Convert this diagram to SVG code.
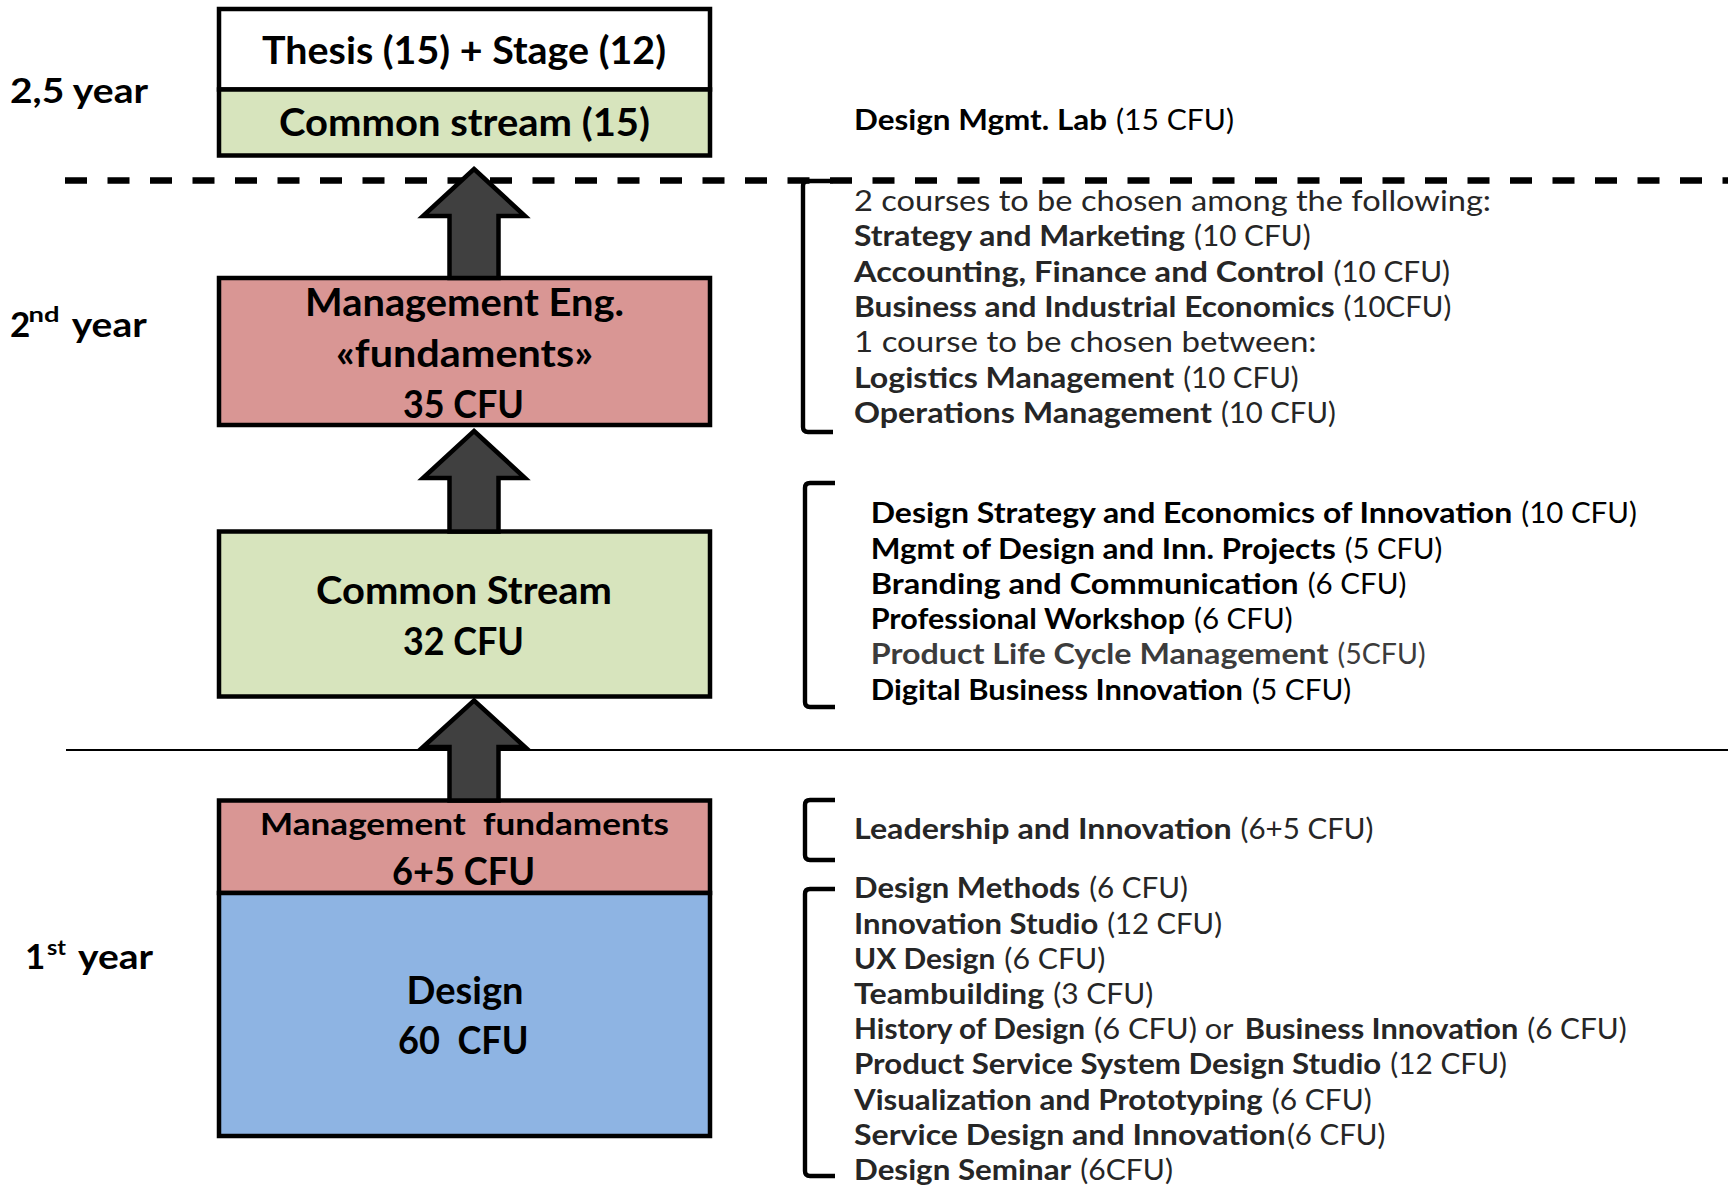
<svg xmlns="http://www.w3.org/2000/svg" width="1728" height="1185" viewBox="0 0 1728 1185">
  <style>
    .box { stroke: #000; stroke-width: 4.5; }
    .white { fill: #fff; }
    .green { fill: #d7e4bd; }
    .red { fill: #d99694; }
    .blue { fill: #8eb4e3; }
    .lbl { font-family: Lato, "Open Sans", "Liberation Sans", sans-serif; font-weight: 700; fill: #000; }
    .big { font-size: 38px; }
    .mid { font-size: 31px; }
    .yr { font-size: 35px; }
    .sup { font-size: 21px; }
    .crs { font-family: Lato, "Open Sans", "Liberation Sans", sans-serif; font-size: 28px; fill: #262626; }
    .k { fill: #000; }
    .g { fill: #3c3c3c; }
    .b { font-weight: 700; }
    .r { font-weight: 400; }
    .arrow { fill: #404040; stroke: #000; stroke-width: 4.5; stroke-linejoin: miter; }
    .brk { fill: none; stroke: #000; stroke-width: 4.4; }
  </style>

  <!-- year separators -->
  <g id="separators">
    <line x1="65" y1="180.5" x2="1728" y2="180.5" stroke="#000" stroke-width="6.5" stroke-dasharray="22 20.5"/>
    <line x1="66" y1="750" x2="1728" y2="750" stroke="#000" stroke-width="2"/>
  </g>

  <!-- year labels -->
  <g id="year-labels" class="lbl yr">
    <text x="10" y="103" textLength="138" lengthAdjust="spacingAndGlyphs">2,5 year</text>
    <text y="336.5"><tspan x="10">2</tspan><tspan class="sup" x="28.5" y="322" textLength="31" lengthAdjust="spacingAndGlyphs">nd</tspan> <tspan x="71.7" y="336.5" textLength="75" lengthAdjust="spacingAndGlyphs">year</tspan></text>
    <text y="969"><tspan x="25">1</tspan><tspan class="sup" x="47" y="955" textLength="19" lengthAdjust="spacingAndGlyphs">st</tspan> <tspan x="78" y="969" textLength="75" lengthAdjust="spacingAndGlyphs">year</tspan></text>
  </g>

  <!-- 2,5 year: thesis + common stream -->
  <g id="node-thesis">
    <rect class="box white" x="219" y="9" width="491" height="80.5"/>
    <rect class="box green" x="219" y="89.5" width="491" height="66"/>
    <text class="lbl big" x="262" y="64" textLength="404" lengthAdjust="spacingAndGlyphs">Thesis (15) + Stage (12)</text>
    <text class="lbl big" x="279" y="136" textLength="371" lengthAdjust="spacingAndGlyphs">Common stream (15)</text>
  </g>

  <!-- 2nd year: management engineering fundamentals -->
  <g id="node-mgmt-eng">
    <rect class="box red" x="219" y="278" width="491" height="147"/>
    <text class="lbl big" x="305" y="316" textLength="319" lengthAdjust="spacingAndGlyphs">Management Eng.</text>
    <text class="lbl big" x="336" y="367" textLength="257" lengthAdjust="spacingAndGlyphs">«fundaments»</text>
    <text class="lbl big" x="403" y="417.5" textLength="121" lengthAdjust="spacingAndGlyphs">35 CFU</text>
  </g>

  <!-- 2nd year: common stream -->
  <g id="node-common-stream">
    <rect class="box green" x="219" y="531.5" width="491" height="165"/>
    <text class="lbl big" x="316" y="604" textLength="296" lengthAdjust="spacingAndGlyphs">Common Stream</text>
    <text class="lbl big" x="403" y="655" textLength="121" lengthAdjust="spacingAndGlyphs">32 CFU</text>
  </g>

  <!-- 1st year: management fundamentals + design -->
  <g id="node-year1">
    <rect class="box red" x="219" y="800.5" width="491" height="92.5"/>
    <rect class="box blue" x="219" y="893" width="491" height="243"/>
    <text class="lbl mid" x="260" y="835" xml:space="preserve" textLength="409" lengthAdjust="spacingAndGlyphs">Management  fundaments</text>
    <text class="lbl big" x="392" y="884.5" textLength="143" lengthAdjust="spacingAndGlyphs">6+5 CFU</text>
    <text class="lbl big" x="406.5" y="1004" textLength="117" lengthAdjust="spacingAndGlyphs">Design</text>
    <text class="lbl big" x="398" y="1054" xml:space="preserve" textLength="130.5" lengthAdjust="spacingAndGlyphs">60  CFU</text>
  </g>

  <!-- block arrows between the stages -->
  <g id="connectors">
    <path class="arrow" d="M474,169 L525,216 L498.5,216 L498.5,278 L449.5,278 L449.5,216 L423,216 Z"/>
    <path class="arrow" d="M474,431 L525,478 L498.5,478 L498.5,531.5 L449.5,531.5 L449.5,478 L423,478 Z"/>
    <path class="arrow" d="M474,700.5 L525,747 L498.5,747 L498.5,800.5 L449.5,800.5 L449.5,747 L423,747 Z"/>
  </g>

  <!-- course brackets -->
  <g id="brackets">
    <path class="brk" d="M833,181 L808,181 Q803,181 803,186 L803,427 Q803,432 808,432 L833,432"/>
    <path class="brk" d="M835,483 L810,483 Q805,483 805,488 L805,702 Q805,707 810,707 L835,707"/>
    <path class="brk" d="M835,800 L810,800 Q805,800 805,805 L805,855 Q805,860 810,860 L835,860"/>
    <path class="brk" d="M835,889 L810,889 Q805,889 805,894 L805,1171 Q805,1176 810,1176 L835,1176"/>
  </g>

  <!-- course lists -->
  <g id="courses-lab" class="crs">
    <text class="k" y="130"><tspan class="b" x="854" textLength="253" lengthAdjust="spacingAndGlyphs">Design Mgmt. Lab</tspan> <tspan class="r" x="1116" textLength="118" lengthAdjust="spacingAndGlyphs">(15 CFU)</tspan></text>
  </g>

  <g id="courses-year2-electives" class="crs">
    <text class="r" x="854" y="211" textLength="637" lengthAdjust="spacingAndGlyphs">2 courses to be chosen among the following:</text>
    <text y="246.3"><tspan class="b" x="854" textLength="331" lengthAdjust="spacingAndGlyphs">Strategy and Marketing</tspan> <tspan class="r" x="1194" textLength="116.6" lengthAdjust="spacingAndGlyphs">(10 CFU)</tspan></text>
    <text y="281.6"><tspan class="b" x="854" textLength="470.4" lengthAdjust="spacingAndGlyphs">Accounting, Finance and Control</tspan> <tspan class="r" x="1333.4" textLength="116.6" lengthAdjust="spacingAndGlyphs">(10 CFU)</tspan></text>
    <text y="316.9"><tspan class="b" x="854" textLength="480.6" lengthAdjust="spacingAndGlyphs">Business and Industrial Economics</tspan> <tspan class="r" x="1343.6" textLength="107.7" lengthAdjust="spacingAndGlyphs">(10CFU)</tspan></text>
    <text class="r" x="854" y="352.2" textLength="462.6" lengthAdjust="spacingAndGlyphs">1 course to be chosen between:</text>
    <text y="387.5"><tspan class="b" x="854" textLength="320.2" lengthAdjust="spacingAndGlyphs">Logistics Management</tspan> <tspan class="r" x="1183.2" textLength="115.5" lengthAdjust="spacingAndGlyphs">(10 CFU)</tspan></text>
    <text y="422.8"><tspan class="b" x="854" textLength="357.9" lengthAdjust="spacingAndGlyphs">Operations Management</tspan> <tspan class="r" x="1220.9" textLength="114.9" lengthAdjust="spacingAndGlyphs">(10 CFU)</tspan></text>
  </g>

  <g id="courses-year2-common" class="crs k">
    <text y="523.3"><tspan class="b" x="870.7" textLength="641.6" lengthAdjust="spacingAndGlyphs">Design Strategy and Economics of Innovation</tspan> <tspan class="r" x="1521.3" textLength="115.5" lengthAdjust="spacingAndGlyphs">(10 CFU)</tspan></text>
    <text y="558.5"><tspan class="b" x="870.7" textLength="465.1" lengthAdjust="spacingAndGlyphs">Mgmt of Design and Inn. Projects</tspan> <tspan class="r" x="1344.8" textLength="97.5" lengthAdjust="spacingAndGlyphs">(5 CFU)</tspan></text>
    <text y="593.8"><tspan class="b" x="870.7" textLength="428" lengthAdjust="spacingAndGlyphs">Branding and Communication</tspan> <tspan class="r" x="1307.7" textLength="98.7" lengthAdjust="spacingAndGlyphs">(6 CFU)</tspan></text>
    <text y="629"><tspan class="b" x="870.7" textLength="314.3" lengthAdjust="spacingAndGlyphs">Professional Workshop</tspan> <tspan class="r" x="1194" textLength="98.7" lengthAdjust="spacingAndGlyphs">(6 CFU)</tspan></text>
    <text class="g" y="664.3"><tspan class="b" x="870.7" textLength="457.9" lengthAdjust="spacingAndGlyphs">Product Life Cycle Management</tspan> <tspan class="r" x="1337.6" textLength="87.9" lengthAdjust="spacingAndGlyphs">(5CFU)</tspan></text>
    <text y="699.5"><tspan class="b" x="870.7" textLength="372.3" lengthAdjust="spacingAndGlyphs">Digital Business Innovation</tspan> <tspan class="r" x="1252" textLength="99.3" lengthAdjust="spacingAndGlyphs">(5 CFU)</tspan></text>
  </g>

  <g id="courses-year1-mgmt" class="crs">
    <text y="838.5"><tspan class="b" x="854" textLength="377.6" lengthAdjust="spacingAndGlyphs">Leadership and Innovation</tspan> <tspan class="r" x="1240.6" textLength="132.9" lengthAdjust="spacingAndGlyphs">(6+5 CFU)</tspan></text>
  </g>

  <g id="courses-year1-design" class="crs">
    <text y="898.3"><tspan class="b" x="854" textLength="226.2" lengthAdjust="spacingAndGlyphs">Design Methods</tspan> <tspan class="r" x="1089.2" textLength="98.8" lengthAdjust="spacingAndGlyphs">(6 CFU)</tspan></text>
    <text y="933.5"><tspan class="b" x="854" textLength="244.2" lengthAdjust="spacingAndGlyphs">Innovation Studio</tspan> <tspan class="r" x="1107.2" textLength="114.8" lengthAdjust="spacingAndGlyphs">(12 CFU)</tspan></text>
    <text y="968.7"><tspan class="b" x="854" textLength="141.3" lengthAdjust="spacingAndGlyphs">UX Design</tspan> <tspan class="r" x="1004.3" textLength="101.1" lengthAdjust="spacingAndGlyphs">(6 CFU)</tspan></text>
    <text y="1003.9"><tspan class="b" x="854" textLength="190.3" lengthAdjust="spacingAndGlyphs">Teambuilding</tspan> <tspan class="r" x="1053.3" textLength="100" lengthAdjust="spacingAndGlyphs">(3 CFU)</tspan></text>
    <text y="1039.1"><tspan class="b" x="854" textLength="231" lengthAdjust="spacingAndGlyphs">History of Design</tspan> <tspan class="r" x="1094" textLength="138.8" lengthAdjust="spacingAndGlyphs">(6 CFU) or</tspan> <tspan class="b" x="1244.8" textLength="273.5" lengthAdjust="spacingAndGlyphs">Business Innovation</tspan> <tspan class="r" x="1527.3" textLength="99.3" lengthAdjust="spacingAndGlyphs">(6 CFU)</tspan></text>
    <text y="1074.3"><tspan class="b" x="854" textLength="527.3" lengthAdjust="spacingAndGlyphs">Product Service System Design Studio</tspan> <tspan class="r" x="1390.3" textLength="116.7" lengthAdjust="spacingAndGlyphs">(12 CFU)</tspan></text>
    <text y="1109.5"><tspan class="b" x="854" textLength="408.8" lengthAdjust="spacingAndGlyphs">Visualization and Prototyping</tspan> <tspan class="r" x="1271.8" textLength="99.9" lengthAdjust="spacingAndGlyphs">(6 CFU)</tspan></text>
    <text y="1144.7"><tspan class="b" x="854" textLength="431.5" lengthAdjust="spacingAndGlyphs">Service Design and Innovation</tspan><tspan class="r" x="1287" textLength="98.4" lengthAdjust="spacingAndGlyphs">(6 CFU)</tspan></text>
    <text y="1179.9"><tspan class="b" x="854" textLength="217.3" lengthAdjust="spacingAndGlyphs">Design Seminar</tspan> <tspan class="r" x="1080.3" textLength="92.7" lengthAdjust="spacingAndGlyphs">(6CFU)</tspan></text>
  </g>
</svg>
